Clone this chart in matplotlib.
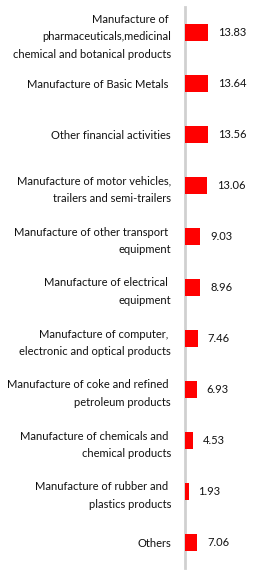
import numpy as np
import matplotlib.pyplot as plt

plt.rcParams['font.family'] = ['Lato', 'DejaVu Sans']

kategorie = [
    "Manufacture of \npharmaceuticals,medicinal\nchemical and botanical products",
    "Manufacture of Basic Metals ",
    "Other financial activities",
    "Manufacture of motor vehicles,\ntrailers and semi-trailers",
    "Manufacture of other transport \nequipment",
    "Manufacture of electrical \nequipment",
    "Manufacture of computer, \nelectronic and optical products",
    "Manufacture of coke and refined \npetroleum products",
    "Manufacture of chemicals and \nchemical products",
    "Manufacture of rubber and \nplastics products",
    "Others",
]
wartosci = [13.83, 13.64, 13.56, 13.06, 9.03, 8.96, 7.46, 6.93, 4.53, 1.93, 7.06]

fig = plt.figure(figsize=(2.76, 5.8), dpi=100)
ax = fig.add_axes([185 / 276, 12 / 580, 91 / 276, 561 / 580])

y = np.arange(len(kategorie))
ax.barh(y, wartosci, height=0.35, color='#ff0000', left=0, zorder=3)
for yi, v in zip(y, wartosci):
    ax.text(v + 6.0, yi, f"{v:.2f}", va='center', ha='left', fontsize=8, color='#111111')

ax.set_xlim(-0.3, 55)
ax.set_ylim(len(kategorie) - 0.5, -0.5)
ax.set_yticks(y)
ax.set_yticklabels(kategorie, fontsize=8, color='#111111', linespacing=1.75)
ax.tick_params(axis='y', length=0, pad=10)
ax.set_xticks([])
for s in ['top', 'right', 'bottom']:
    ax.spines[s].set_visible(False)
ax.spines['left'].set_color('#d0d0d0')
ax.spines['left'].set_linewidth(2)

fig.savefig('out.png', dpi=100)
